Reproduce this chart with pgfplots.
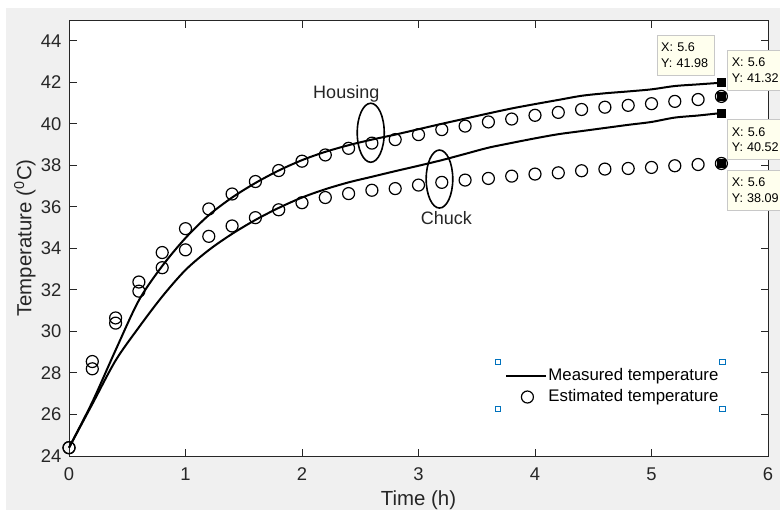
\documentclass[border=0pt]{standalone}
\usepackage{pgfplots}
\usepackage{pgfplotstable}
\pgfplotsset{compat=1.18}
\usepackage{fontspec}
\setmainfont{Liberation Sans}

\definecolor{figbg}{RGB}{240,240,240}
\definecolor{axgray}{RGB}{38,38,38}
\definecolor{tipbg}{RGB}{255,255,238}
\definecolor{tipedge}{RGB}{200,200,200}
\definecolor{handle}{RGB}{0,114,189}

\pgfplotsset{
    linelegend/.style={legend image code/.code={\draw[##1] (0pt,0pt) -- (20pt,0pt);}},
    marklegend/.style={legend image code/.code={\draw[##1, mark repeat=2, mark phase=2]
        plot coordinates {(0pt,0pt) (10.5pt,0pt) (21pt,0pt)};}},
}

\pgfplotstableread{
t    hm     he     cm     ce
0.0  24.40  24.40  24.40  24.40
0.2  26.60  28.55  26.50  28.20
0.4  29.10  30.65  28.60  30.40
0.6  31.50  32.38  30.20  31.94
0.8  33.15  33.80  31.68  33.07
1.0  34.50  34.95  32.96  33.93
1.2  35.60  35.90  33.92  34.58
1.4  36.45  36.62  34.70  35.08
1.6  37.15  37.22  35.37  35.48
1.8  37.75  37.75  35.95  35.86
2.0  38.25  38.20  36.45  36.20
2.2  38.65  38.50  36.85  36.45
2.4  38.97  38.82  37.18  36.64
2.6  39.24  39.07  37.45  36.80
2.8  39.48  39.24  37.72  36.88
3.0  39.74  39.48  37.98  37.05
3.2  40.00  39.72  38.25  37.18
3.4  40.25  39.89  38.55  37.29
3.6  40.50  40.09  38.85  37.37
3.8  40.74  40.23  39.08  37.48
4.0  40.95  40.41  39.30  37.58
4.2  41.15  40.55  39.50  37.64
4.4  41.35  40.69  39.65  37.74
4.6  41.47  40.80  39.80  37.82
4.8  41.56  40.89  39.95  37.85
5.0  41.66  40.97  40.09  37.90
5.2  41.82  41.08  40.30  37.98
5.4  41.90  41.17  40.40  38.04
5.6  41.98  41.32  40.52  38.09
}\temps

\begin{document}
\begin{tikzpicture}
\fill[figbg] (-31.5pt,-27pt) rectangle (355.5pt,224pt);
\useasboundingbox (-34.5pt,-27pt) rectangle (355.5pt,228pt);
\begin{axis}[
    scale only axis,
    width=349.5pt, height=218pt,
    xmin=0, xmax=6, ymin=24, ymax=45,
    xtick={0,1,...,6}, ytick={24,26,...,44},
    axis background/.style={fill=white},
    axis line style={axgray, line width=0.5pt},
    tick style={axgray, line width=0.5pt},
    major tick length=3.75pt,
    tick align=inside,
    ticklabel style={font=\fontsize{9.2}{11}\selectfont, text=axgray},
    xticklabel style={yshift=-2.4pt},
    yticklabel style={xshift=-0.3pt},
    /pgf/number format/assume math mode=true,
    xlabel={Time (h)},
    ylabel={Temperature (\textsuperscript{0}C)},
    every axis x label/.style={at={(axis description cs:0.5,-0.1009)}, anchor=center,
        font=\fontsize{10.2}{12}\selectfont, text=axgray},
    every axis y label/.style={at={(axis description cs:-0.063,0.5)}, anchor=center, rotate=90,
        font=\fontsize{10.2}{12}\selectfont, text=axgray},
    legend cell align=left,
    legend style={draw=none, fill=none, at={(0.6238,0.1594)}, anchor=west,
        font=\fontsize{8.4}{10}\selectfont, inner sep=0pt, row sep=1.2pt,
        nodes={inner sep=0.5pt, text height=6.5pt, text depth=1.8pt}},
    clip=false,
]
\addplot[black, line width=1pt, smooth, linelegend]
    table[x=t, y=hm] {\temps};
\addlegendentry{Measured temperature}
\addplot[black, only marks, mark=o, mark size=3pt, mark options={line width=0.6pt}, marklegend]
    table[x=t, y=he] {\temps};
\addlegendentry{Estimated temperature}
\addplot[black, line width=1pt, smooth, forget plot]
    table[x=t, y=cm] {\temps};
\addplot[black, only marks, mark=o, mark size=3pt, mark options={line width=0.6pt}, forget plot]
    table[x=t, y=ce] {\temps};
% data tip markers
\addplot[black, only marks, mark=square*, mark size=2pt, forget plot]
    coordinates {(5.6,41.98) (5.6,41.32) (5.6,40.52) (5.6,38.09)};

\draw[black, line width=0.8pt] (axis cs:2.59,39.57) ellipse [x radius=6.75pt, y radius=14.75pt];
\draw[black, line width=0.8pt] (axis cs:3.18,37.34) ellipse [x radius=6.65pt, y radius=14.5pt];
\node[font=\fontsize{9}{11}\selectfont, text=axgray] at (axis cs:2.38,41.46) {Housing};
\node[font=\fontsize{9}{11}\selectfont, text=axgray] at (axis cs:3.24,35.45) {Chuck};

% selected-legend handles
\node[draw=handle, fill=white, line width=0.5pt, minimum size=2.6pt, inner sep=0pt] at (axis cs:3.68,28.54) {};
\node[draw=handle, fill=white, line width=0.5pt, minimum size=2.6pt, inner sep=0pt] at (axis cs:5.61,28.54) {};
\node[draw=handle, fill=white, line width=0.5pt, minimum size=2.6pt, inner sep=0pt] at (axis cs:3.68,26.28) {};
\node[draw=handle, fill=white, line width=0.5pt, minimum size=2.6pt, inner sep=0pt] at (axis cs:5.61,26.28) {};
\end{axis}

\tikzset{tip/.style={draw=tipedge, fill=tipbg, anchor=north west, align=left,
    font=\fontsize{6.3}{7.8}\selectfont, text=black, text width=24.5pt,
    inner xsep=2pt, minimum height=20pt}}
\node[tip] at (293.9pt,210.5pt) {X: 5.6\\Y: 41.98};
\node[tip] at (329.2pt,203pt) {X: 5.6\\Y: 41.32};
\node[tip] at (329.2pt,168.3pt) {X: 5.6\\Y: 40.52};
\node[tip] at (329.2pt,143pt) {X: 5.6\\Y: 38.09};
\end{tikzpicture}
\end{document}
